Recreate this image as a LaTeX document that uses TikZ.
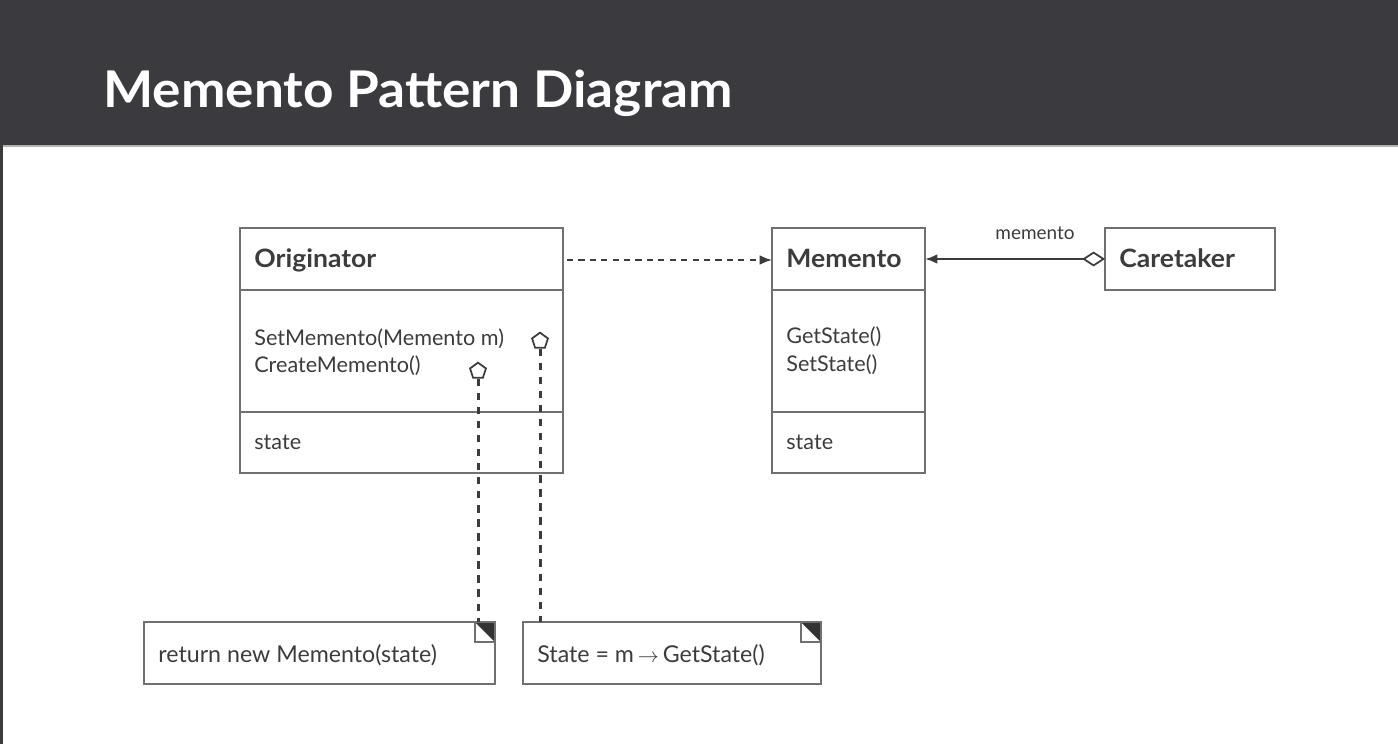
\documentclass[tikz,border=0pt]{standalone}
\usepackage{fontspec}
\setmainfont{Lato}
\newfontfamily\wideLato[FakeStretch=1.05]{Lato}
\usetikzlibrary{shapes.geometric,arrows.meta}
\definecolor{band}{HTML}{3B3A3F}
\definecolor{ink}{HTML}{3C3C3C}
\definecolor{edge}{HTML}{707070}
\definecolor{fold}{HTML}{333333}
\begin{document}
\begin{tikzpicture}[x=0.02cm,y=-0.02cm,
  box/.style={draw=edge,line width=1.1pt,anchor=north west,inner sep=0pt,outer sep=0pt},
  divider/.style={draw=edge,line width=1.1pt},
  txt/.style={anchor=base west,inner sep=0pt,text=ink,font=\fontsize{12.3}{15}\selectfont},
  notetxt/.style={anchor=base west,inner sep=0pt,text=ink,font=\fontsize{13.2}{15}\selectfont},
  head/.style={anchor=base west,inner sep=0pt,text=ink,font=\wideLato\fontsize{14.4}{17}\selectfont\bfseries},
  penta/.style={regular polygon,regular polygon sides=5,draw=ink,fill=white,line width=1pt,minimum size=9.5pt,inner sep=0pt},
  lolly/.style={draw=ink,line width=1.7pt,dash pattern=on 4.2pt off 3.8pt},
  dep/.style={draw=ink,line width=1.1pt,dash pattern=on 3.5pt off 3pt,-{Latex[length=7pt,width=5.5pt]}},
  assoc/.style={draw=ink,line width=1.2pt,{Latex[length=7pt,width=5.5pt]}-{Diamond[open,length=13pt,width=8.5pt,line width=1pt]}},
  foldbox/.style={draw=edge,line width=0.9pt}
]
\useasboundingbox (0,0) rectangle (1398,744);
% header band
\fill[band] (0,0) rectangle (1398,145);
\fill[gray!60] (0,145) rectangle (1398,147);
\fill[band] (0,145) rectangle (2.5,744);
\node[anchor=base west,inner sep=0pt,text=white,font=\wideLato\fontsize{28.8}{32}\selectfont\bfseries] (title) at (103,107) {Memento Pattern Diagram};

% Originator
\node[box,minimum width=6.46cm,minimum height=4.9cm] (orig) at (240,228) {};
\draw[divider] (orig.west |- 0,290) -- (orig.east |- 0,290);
\draw[divider] (orig.west |- 0,412) -- (orig.east |- 0,412);
\node[head] (origname) at (254,267) {Originator};
\node[txt] (m1) at (254,345) {SetMemento(Memento m)};
\node[txt] (m2) at (254,372) {CreateMemento()};
\node[txt] (os) at (254,449) {state};

% Memento
\node[box,minimum width=3.06cm,minimum height=4.9cm] (mem) at (772,228) {};
\draw[divider] (mem.west |- 0,290) -- (mem.east |- 0,290);
\draw[divider] (mem.west |- 0,412) -- (mem.east |- 0,412);
\node[head] (memname) at (786,267) {Memento};
\node[txt] (g1) at (786,343) {GetState()};
\node[txt] (g2) at (786,371) {SetState()};
\node[txt] (ms) at (786,449) {state};

% Caretaker
\node[box,minimum width=3.4cm,minimum height=1.24cm] (care) at (1105,228) {};
\node[head] (carename) at (1119,267) {Caretaker};

% Notes
\node[box,minimum width=7.02cm,minimum height=1.24cm] (note1) at (144,622) {};
\node[notetxt] (n1t) at (158,662) {return new Memento(state)};
\node[box,minimum width=5.96cm,minimum height=1.24cm] (note2) at (523,622) {};
\node[notetxt] (n2t) at (537,662) {State = m\,$\rightarrow$\,GetState()};
\foreach \n in {note1,note2}{
  \fill[fold] (\n.north east) -- ([shift={(-20,0)}]\n.north east) -- ([shift={(0,20)}]\n.north east) -- cycle;
  \draw[foldbox] ([shift={(-20,0)}]\n.north east) rectangle ([shift={(0,20)}]\n.north east);
}

% connectors
\draw[dep] ([shift={(4,32)}]orig.north east) -- ([shift={(0,32)}]mem.north west);
\draw[assoc] (mem.east |- care.west) -- (care.west);
\node[inner sep=0pt,text=ink,font=\fontsize{10.8}{12}\selectfont] (lbl) at (1035,233) {memento};

\node[penta] (p1) at (478,371) {};
\node[penta] (p2) at (540,341) {};
\draw[lolly] (p1.south) -- (p1 |- note1.north);
\draw[lolly] (p2.south) -- (p2 |- note2.north);
\end{tikzpicture}
\end{document}
